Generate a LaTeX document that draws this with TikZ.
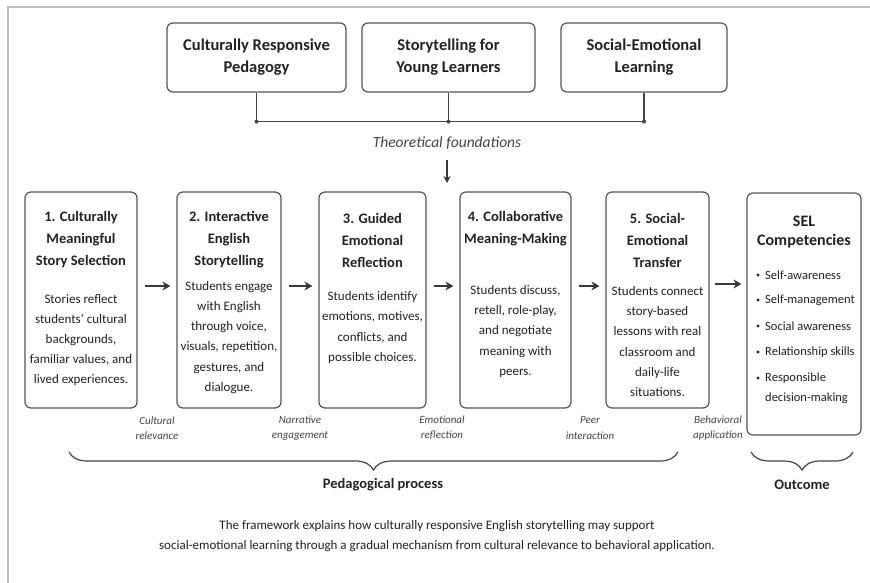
\documentclass[tikz,border=0pt]{standalone}
\usepackage{fontspec}
\setmainfont{Carlito}
\usetikzlibrary{arrows.meta,decorations.pathreplacing,calc}
\definecolor{ink}{HTML}{222222}
\definecolor{edge}{HTML}{555555}
\definecolor{soft}{HTML}{444444}
\definecolor{framec}{HTML}{BDBDBD}
\begin{document}
\begin{tikzpicture}[x=1pt,y=-1pt,
  box/.style={draw=edge,line width=1.2pt,rounded corners=6pt,inner sep=0pt,fill=white},
  toptext/.style={font=\fontsize{16.5}{22}\selectfont\bfseries,text=ink,align=center},
  ttl/.style={font=\fontsize{14.5}{22}\selectfont\bfseries,text=ink,align=center,inner sep=0pt},
  bodytext/.style={font=\fontsize{13}{20.2}\selectfont,text=ink,align=center,inner sep=0pt},
  itemtext/.style={font=\fontsize{12.5}{20}\selectfont,text=ink,align=left,anchor=west,inner sep=0pt},
  lbl/.style={font=\fontsize{11}{15.5}\selectfont\itshape,text=soft,align=center,inner sep=0pt},
  flow/.style={draw=ink!90,line width=1.9pt,-{Stealth[length=8pt,width=9pt]}},
  linkline/.style={draw=soft,line width=1.2pt},
  bracestyle/.style={draw=soft,line width=1.2pt,decorate,decoration={brace,mirror,amplitude=18pt,aspect=0.5}},
  grouplbl/.style={font=\fontsize{14.5}{18}\selectfont\bfseries,text=ink,inner sep=0pt},
  captext/.style={font=\fontsize{13}{20}\selectfont,text=ink,align=center,inner sep=0pt}
]
\useasboundingbox (0,0) rectangle (870,583);
\draw[framec,line width=2pt] (8,583) -- (8,7) -- (870,7);

% top boxes
\node[box,minimum width=179pt,minimum height=69pt,toptext] (t1) at (256.5,57.5) {Culturally Responsive\\Pedagogy};
\node[box,minimum width=173pt,minimum height=69pt,toptext] (t2) at (448.5,57.5) {Storytelling for\\Young Learners};
\node[box,minimum width=166pt,minimum height=69pt,toptext] (t3) at (644,57.5) {Social-Emotional\\Learning};

\draw[linkline] (t1.south) -- ++(0,29) coordinate (j1);
\draw[linkline] (t2.south) -- ++(0,29) coordinate (j2);
\draw[linkline] (t3.south) -- ++(0,29) coordinate (j3);
\draw[linkline] (j1) -- (j3);
\fill[soft] (j1) circle (2pt) (j2) circle (2pt) (j3) circle (2pt);

\node[font=\fontsize{15.5}{18}\selectfont\itshape,text=soft] (tf) at (447,143) {Theoretical foundations};
\coordinate (tfend) at (447,183);
\draw[draw=ink!90,line width=1.5pt,-{Stealth[length=7pt,width=7pt]}] ([yshift=-7pt]tf.south) -- (tfend);

% process boxes
\node[box,minimum width=112pt,minimum height=216pt] (b1) at (81,300) {};
\node[box,minimum width=104pt,minimum height=216pt] (b2) at (229,300) {};
\node[box,minimum width=107pt,minimum height=216pt] (b3) at (372.5,300) {};
\node[box,minimum width=111pt,minimum height=216pt] (b4) at (515.5,300) {};
\node[box,minimum width=103pt,minimum height=216pt] (b5) at (657.5,300) {};
\node[box,minimum width=114pt,minimum height=242pt] (sel) at (804,314) {};

\node[ttl] at (81,240) {1. Culturally\\Meaningful\\Story Selection};
\node[bodytext] at (81,340) {Stories reflect\\students' cultural\\backgrounds,\\familiar values, and\\lived experiences.};

\node[ttl] at (229,240) {2. Interactive\\English\\Storytelling};
\node[bodytext] at (229,337.5) {Students engage\\with English\\through voice,\\visuals, repetition,\\gestures, and\\dialogue.};

\node[ttl] at (372.5,240) {3. Guided\\Emotional\\Reflection};
\node[bodytext] at (372.5,327.5) {Students identify\\emotions, motives,\\conflicts, and\\possible choices.};

\node[ttl] at (515.5,229) {4. Collaborative\\Meaning-Making};
\node[bodytext] at (515.5,331.5) {Students discuss,\\retell, role-play,\\and negotiate\\meaning with\\peers.};

\node[ttl] at (657.5,240) {5. Social-\\Emotional\\Transfer};
\node[bodytext] at (657.5,341.5) {Students connect\\story-based\\lessons with real\\classroom and\\daily-life\\situations.};

\node[ttl,font=\fontsize{16}{19}\selectfont\bfseries] at (804,232) {SEL\\Competencies};
\foreach \yy/\tx in {275/Self-awareness,300/Self-management,326/Social awareness,352/Relationship skills,378/Responsible}{
  \fill[ink] (758,\yy) circle (1.6pt);
  \node[itemtext] at (765,\yy) {\tx};
}
\node[itemtext] at (765,398) {decision-making};

% arrows
\foreach \a/\b in {b1/b2,b2/b3,b3/b4,b4/b5}{
  \draw[flow] ([xshift=7pt,yshift=14pt]\a.east) -- ([xshift=-6pt,yshift=14pt]\b.west);
}
\coordinate (a5) at ([xshift=5pt,yshift=16pt]b5.east);
\draw[flow] (a5) -- ($(a5 -| sel.west)+(-5,0)$);

% arrow labels
\node[lbl] at (157,428) {Cultural\\relevance};
\node[lbl] at (300,428) {Narrative\\engagement};
\node[lbl] at (442,428) {Emotional\\reflection};
\node[lbl] at (590,428) {Peer\\interaction};
\node[lbl] at (718,428) {Behavioral\\application};

% braces
\coordinate (pb1) at (69,452);
\coordinate (pb2) at (678,452);
\coordinate (ob1) at (751,452);
\coordinate (ob2) at (853,452);
\draw[bracestyle] (pb1) -- (pb2);
\draw[bracestyle] (ob1) -- (ob2);
\node[grouplbl] (pp) at (383,485) {Pedagogical process};
\node[grouplbl] (oc) at (802,485) {Outcome};

\node[captext] (cap) at (437,536) {The framework explains how culturally responsive English storytelling may support\\social-emotional learning through a gradual mechanism from cultural relevance to behavioral application.};
\end{tikzpicture}
\end{document}
